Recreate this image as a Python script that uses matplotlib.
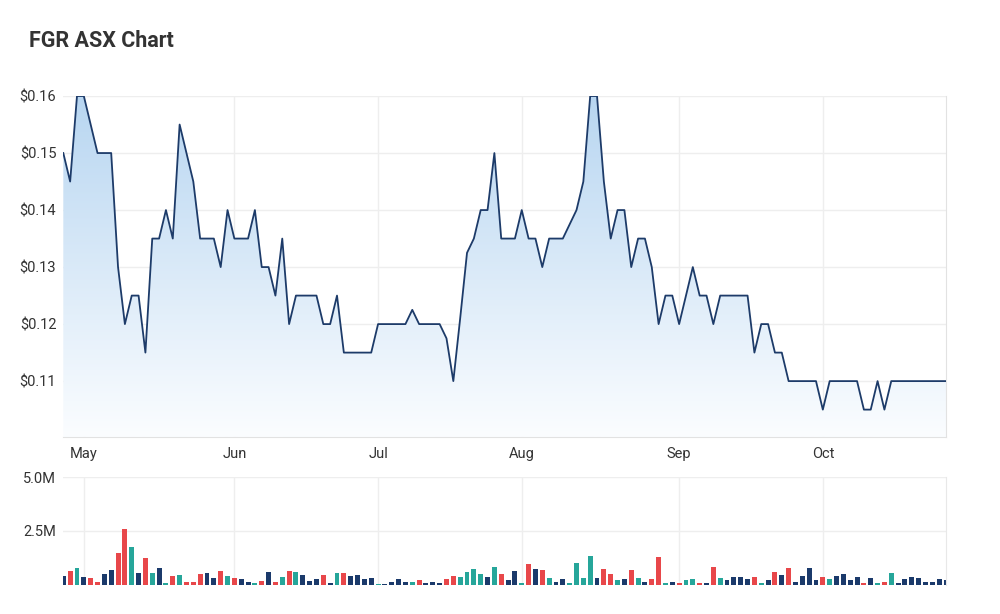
import numpy as np
import matplotlib
matplotlib.use('Agg')
import matplotlib.pyplot as plt
from matplotlib.colors import LinearSegmentedColormap

# daily close (AUD), one value per trading day shown
price = [0.15, 0.145, 0.16, 0.16, 0.155, 0.15, 0.15, 0.15, 0.13, 0.12,
         0.125, 0.125, 0.115, 0.135, 0.135, 0.14, 0.135, 0.155, 0.15, 0.145,
         0.135, 0.135, 0.135, 0.13, 0.14, 0.135, 0.135, 0.135, 0.14, 0.13,
         0.13, 0.125, 0.135, 0.12, 0.125, 0.125, 0.125, 0.125, 0.12, 0.12,
         0.125, 0.115, 0.115, 0.115, 0.115, 0.115, 0.12, 0.12, 0.12, 0.12,
         0.12, 0.1225, 0.12, 0.12, 0.12, 0.12, 0.1175, 0.11, 0.121, 0.1325,
         0.135, 0.14, 0.14, 0.15, 0.135, 0.135, 0.135, 0.14, 0.135, 0.135,
         0.13, 0.135, 0.135, 0.135, 0.1375, 0.14, 0.145, 0.16, 0.16, 0.145,
         0.135, 0.14, 0.14, 0.13, 0.135, 0.135, 0.13, 0.12, 0.125, 0.125,
         0.12, 0.125, 0.13, 0.125, 0.125, 0.12, 0.125, 0.125, 0.125, 0.125,
         0.125, 0.115, 0.12, 0.12, 0.115, 0.115, 0.11, 0.11, 0.11, 0.11,
         0.11, 0.105, 0.11, 0.11, 0.11, 0.11, 0.11, 0.105, 0.105, 0.11,
         0.105, 0.11, 0.11, 0.11, 0.11, 0.11, 0.11, 0.11, 0.11, 0.11]

# daily volume, millions of shares
volume_m = [0.38, 0.65, 0.79, 0.34, 0.29, 0.14, 0.48, 0.68, 1.48, 2.58,
            1.73, 0.54, 1.23, 0.54, 0.79, 0.09, 0.39, 0.45, 0.14, 0.14,
            0.48, 0.52, 0.29, 0.65, 0.39, 0.29, 0.25, 0.14, 0.09, 0.15,
            0.59, 0.14, 0.34, 0.65, 0.60, 0.45, 0.15, 0.25, 0.45, 0.09,
            0.54, 0.54, 0.39, 0.45, 0.25, 0.29, 0.04, 0.04, 0.14, 0.25,
            0.14, 0.14, 0.19, 0.09, 0.14, 0.09, 0.25, 0.39, 0.34, 0.59,
            0.74, 0.49, 0.34, 0.83, 0.49, 0.19, 0.65, 0.09, 0.94, 0.74,
            0.69, 0.29, 0.14, 0.25, 0.09, 0.99, 0.29, 1.33, 0.29, 0.74,
            0.49, 0.19, 0.25, 0.69, 0.29, 0.14, 0.25, 1.28, 0.09, 0.14,
            0.09, 0.19, 0.25, 0.09, 0.09, 0.83, 0.29, 0.23, 0.34, 0.34,
            0.25, 0.34, 0.09, 0.19, 0.59, 0.43, 0.79, 0.14, 0.39, 0.79,
            0.19, 0.34, 0.25, 0.39, 0.48, 0.19, 0.34, 0.09, 0.29, 0.09,
            0.14, 0.54, 0.05, 0.25, 0.34, 0.29, 0.14, 0.14, 0.25, 0.19]

months = ['May', 'Jun', 'Jul', 'Aug', 'Sep', 'Oct']
month_first_day = [3, 25, 46, 67, 90, 111]   # trading-day index of first session
price_ticks = [0.11, 0.12, 0.13, 0.14, 0.15, 0.16]
vol_ticks = [2.5, 5.0]

plt.rcParams['font.family'] = ['Roboto', 'DejaVu Sans']
GRID = '#eeeeee'; TXT = '#333333'; LINE = '#1d3b69'
UP, DOWN, FLAT = '#26a69a', '#e8474a', '#1b3a6b'

x = np.arange(len(price)); p = np.array(price)
ymin, ymax = 0.1002, 0.16

fig = plt.figure(figsize=(10, 6.14), dpi=100)
ax = fig.add_axes([0.0633, 0.2883, 0.8827, 0.5553])
axv = fig.add_axes([0.0633, 0.048, 0.8827, 0.1751])

# ---- price panel: gradient area + line ----
cmap = LinearSegmentedColormap.from_list('fade', ['#fbfdff', '#b8d6f1'])
poly = ax.fill_between(x, p, ymin, color='none', lw=0)
grad = np.linspace(1, 0, 256).reshape(-1, 1)
im = ax.imshow(grad, extent=[0, len(p) - 1, ymin, ymax], aspect='auto',
               cmap=cmap, origin='upper', zorder=1)
im.set_clip_path(poly.get_paths()[0], ax.transData)
ax.plot(x, p, color=LINE, lw=1.3, zorder=3)
ax.set_xlim(0, len(p) - 1); ax.set_ylim(ymin, ymax)
ax.set_yticks(price_ticks)
ax.set_yticklabels(['$%.2f' % v for v in price_ticks])
ax.set_xticks(month_first_day); ax.set_xticklabels(months)
ax.grid(True, color=GRID, lw=1, zorder=0); ax.set_axisbelow(True)
ax.tick_params(length=0, labelsize=10.5, colors=TXT)
ax.tick_params(axis='y', pad=5); ax.tick_params(axis='x', pad=7)
for k, s in ax.spines.items():
    s.set_visible(k in ('bottom', 'right')); s.set_color('#e2e2e2')

# ---- volume panel: bars coloured by day-on-day price move ----
chg = np.diff(p, prepend=p[0])
cols = [UP if c > 1e-9 else DOWN if c < -1e-9 else FLAT for c in chg]
axv.bar(x, volume_m, width=0.72, color=cols, zorder=2)
axv.set_xlim(0, len(p) - 1); axv.set_ylim(0, 5.0)
axv.set_yticks(vol_ticks); axv.set_yticklabels(['%.1fM' % v for v in vol_ticks])
axv.set_xticks(month_first_day); axv.set_xticklabels([])
axv.grid(True, color=GRID, lw=1, zorder=0); axv.set_axisbelow(True)
axv.tick_params(length=0, labelsize=10.5, colors=TXT, pad=5)
for k, s in axv.spines.items():
    s.set_visible(k == 'right'); s.set_color('#e8e8e8')

fig.text(0.029, 1 - 41 / 614, 'FGR ASX Chart', fontsize=15.5, fontweight='bold',
         color=TXT, va='center', ha='left')
fig.savefig('out.png', dpi=100, facecolor='white')
